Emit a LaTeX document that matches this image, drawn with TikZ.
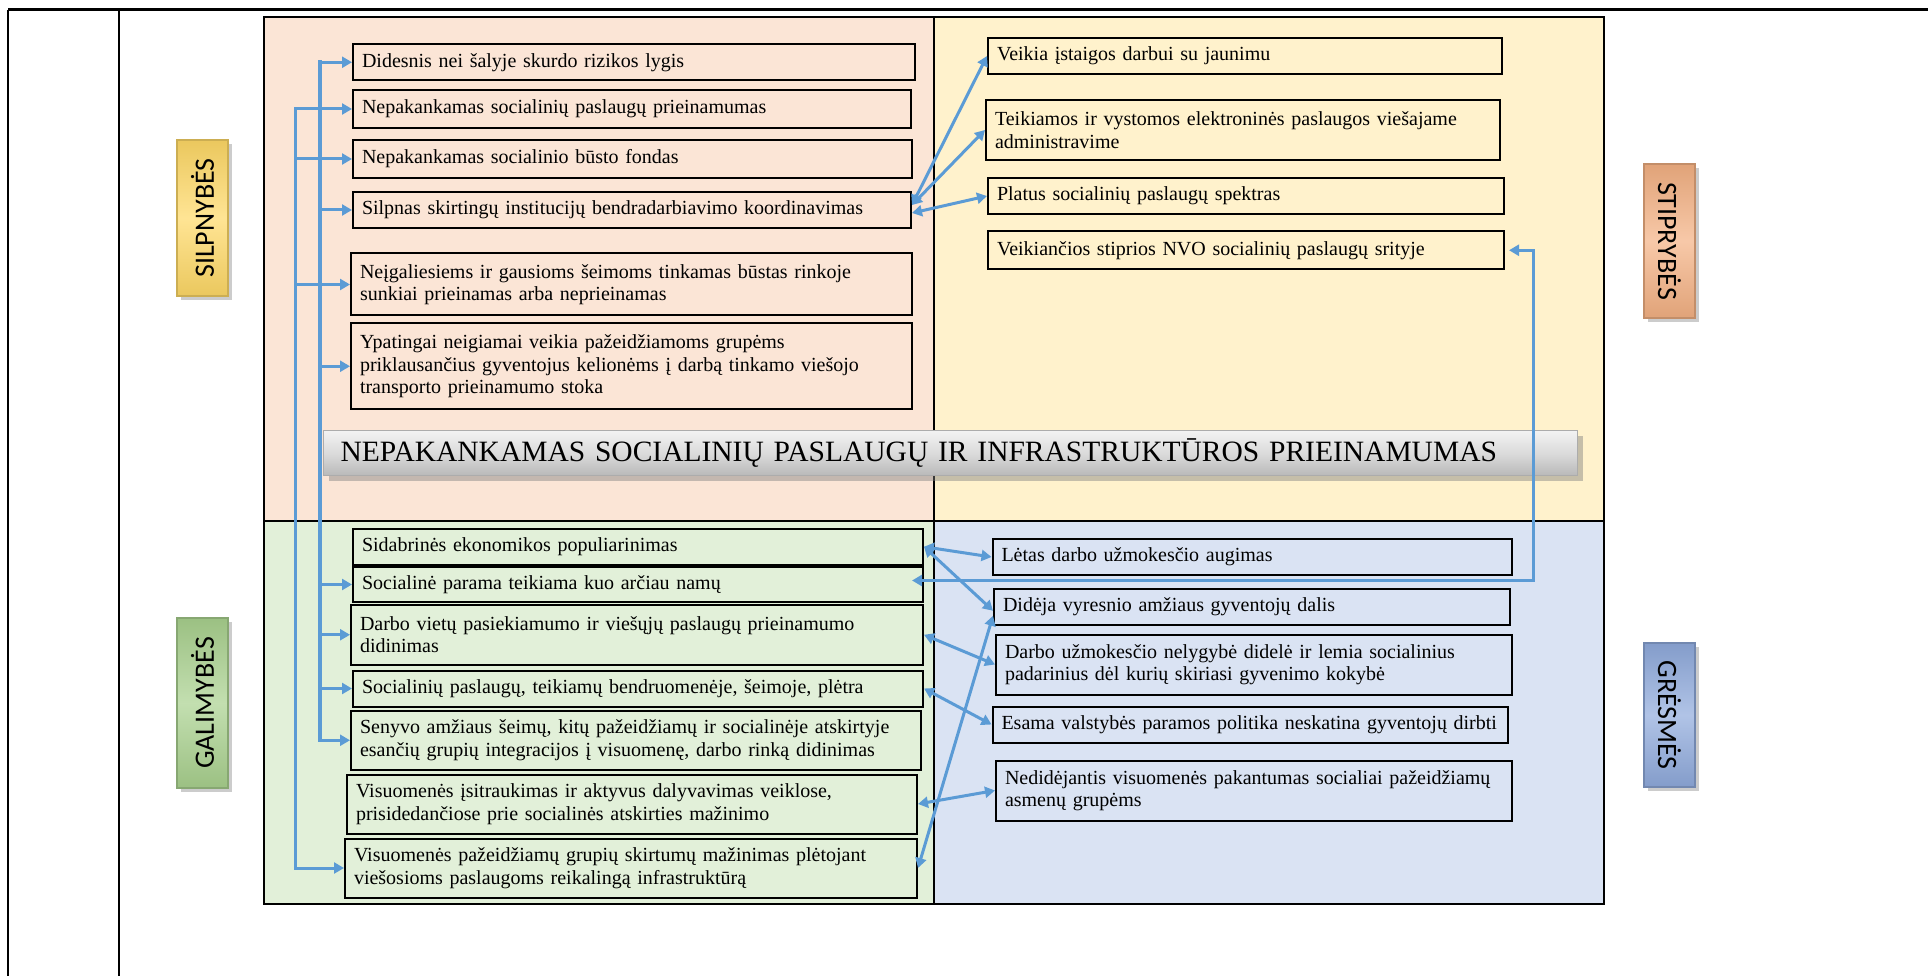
\documentclass[tikz,border=0pt]{standalone}
\usepackage{fontspec}
\setmainfont{Liberation Serif}
\newfontfamily\tagfont{Carlito}
\usepackage{tikz}
\usepackage{xcolor}
\usetikzlibrary{arrows.meta,shadows}

\definecolor{weakbg}{HTML}{FBE5D6}
\definecolor{strongbg}{HTML}{FFF2CC}
\definecolor{oppbg}{HTML}{E2F0D9}
\definecolor{threatbg}{HTML}{DAE3F3}
\definecolor{linkblue}{HTML}{5B9BD5}
\definecolor{tagyellow}{HTML}{FFD966}
\definecolor{taggreen}{HTML}{A9D18E}
\definecolor{tagorange}{HTML}{F4B183}
\definecolor{tagblue}{HTML}{8FAADC}

\begin{document}
\begin{tikzpicture}[x=1pt,y=-1pt,
  >={Triangle[length=10pt,width=11pt]},
  box/.style={draw=black,line width=2pt,anchor=north west,align=left,
    inner xsep=9pt,inner ysep=0pt,font=\fontsize{20}{22.5}\selectfont},
  link/.style={draw=linkblue,line width=3pt,->},
  both/.style={draw=linkblue,line width=3pt,<->},
  trunk/.style={draw=linkblue,line width=4pt,line cap=rect},
  tag/.style={draw=#1!80!black,line width=2pt,
    top color=#1!92!black,bottom color=#1!92!black,middle color=#1!70!white,
    drop shadow={shadow xshift=4pt,shadow yshift=-4pt,opacity=.4},
    minimum height=51pt,inner sep=0pt,font=\tagfont\fontsize{28}{28}\selectfont}]
\useasboundingbox (0,0) rectangle (1928,976);

% page table
\draw[line width=3pt] (8,10) -- (1928,10);
\draw[line width=2pt] (8,10) -- (8,976);
\draw[line width=2pt] (119,10) -- (119,976);

% quadrants
\fill[weakbg] (264,17) rectangle (934,521);
\fill[strongbg] (934,17) rectangle (1604,521);
\fill[oppbg] (264,521) rectangle (934,904);
\fill[threatbg] (934,521) rectangle (1604,904);
\draw[line width=2pt] (264,17) rectangle (1604,904);
\draw[line width=2pt] (934,17) -- (934,904);
\draw[line width=2pt] (264,521) -- (1604,521);

% side labels
\node[tag=tagyellow,rotate=90,minimum width=156pt] (weak) at (202.5,218) {SILPNYBĖS};
\node[tag=taggreen,rotate=90,minimum width=170pt] (opp) at (202.5,703) {GALIMYBĖS};
\node[tag=tagorange,rotate=-90,minimum width=154pt] (strong) at (1669.5,241) {STIPRYBĖS};
\node[tag=tagblue,rotate=-90,minimum width=144pt] (threat) at (1669.5,715) {GRĖSMĖS};

% title bar
\node[anchor=north west,draw=gray!65,line width=1pt,top color=gray!10,bottom color=gray!55,middle color=gray!28,
  drop shadow={shadow xshift=5pt,shadow yshift=-5pt,opacity=.45},
  minimum height=45pt,text width=1220pt,inner xsep=17pt,inner ysep=0pt,align=left,
  font=\fontsize{29.5}{32}\selectfont] (title) at (323,430)
  {NEPAKANKAMAS SOCIALINIŲ PASLAUGŲ IR INFRASTRUKTŪROS PRIEINAMUMAS};

\begin{scope}[every node/.style={box,fill=weakbg}]
\node[text width=543.5pt,minimum height=36.5pt] (w1) at (352,43) {Didesnis nei šalyje skurdo rizikos lygis};
\node[text width=540pt,minimum height=38pt] (w2) at (352,89) {Nepakankamas socialinių paslaugų prieinamumas};
\node[text width=541pt,minimum height=38pt] (w3) at (352,139) {Nepakankamas socialinio būsto fondas};
\node[text width=540pt,minimum height=36pt] (w4) at (352,191) {Silpnas skirtingų institucijų bendradarbiavimo koordinavimas};
\node[text width=543pt,minimum height=62pt] (w5) at (350,252.5) {Neįgaliesiems ir gausioms šeimoms tinkamas būstas rinkoje\\sunkiai prieinamas arba neprieinamas};
\node[text width=543pt,minimum height=85.5pt] (w6) at (350,322.5) {Ypatingai neigiamai veikia pažeidžiamoms grupėms\\priklausančius gyventojus kelionėms į darbą tinkamo viešojo\\transporto prieinamumo stoka};
\end{scope}

\begin{scope}[every node/.style={box,fill=strongbg}]
\node[text width=496pt,minimum height=36pt] (s1) at (987,37) {Veikia įstaigos darbui su jaunimu};
\node[text width=496pt,minimum height=60pt] (s2) at (985,99) {Teikiamos ir vystomos elektroninės paslaugos viešajame\\administravime};
\node[text width=497.5pt,minimum height=36pt] (s3) at (987,177) {Platus socialinių paslaugų spektras};
\node[text width=498pt,minimum height=38.5pt] (s4) at (987,230) {Veikiančios stiprios NVO socialinių paslaugų srityje};
\end{scope}

\begin{scope}[every node/.style={box,fill=oppbg}]
\node[text width=552pt,minimum height=35.5pt] (o1) at (352,528) {Sidabrinės ekonomikos populiarinimas};
\node[text width=552pt,minimum height=35pt] (o2) at (352,566) {Socialinė parama teikiama kuo arčiau namų};
\node[text width=554pt,minimum height=59.5pt] (o3) at (350,604) {Darbo vietų pasiekiamumo ir viešųjų paslaugų prieinamumo\\didinimas};
\node[text width=552pt,minimum height=36pt] (o4) at (352,669.5) {Socialinių paslaugų, teikiamų bendruomenėje, šeimoje, plėtra};
\node[text width=551.5pt,minimum height=59.5pt] (o5) at (350,709.5) {Senyvo amžiaus šeimų, kitų pažeidžiamų ir socialinėje atskirtyje\\esančių grupių integracijos į visuomenę, darbo rinką didinimas};
\node[text width=552pt,minimum height=59pt] (o6) at (346,773.5) {Visuomenės įsitraukimas ir aktyvus dalyvavimas veiklose,\\prisidedančiose prie socialinės atskirties mažinimo};
\node[text width=554pt,minimum height=59pt] (o7) at (344,837.5) {Visuomenės pažeidžiamų grupių skirtumų mažinimas plėtojant\\viešosioms paslaugoms reikalingą infrastruktūrą};
\end{scope}

\begin{scope}[every node/.style={box,fill=threatbg}]
\node[text width=501pt,minimum height=36pt] (t1) at (991.5,538) {Lėtas darbo užmokesčio augimas};
\node[text width=497.5pt,minimum height=36.5pt] (t2) at (993,587.5) {Didėja vyresnio amžiaus gyventojų dalis};
\node[text width=497.5pt,minimum height=60pt] (t3) at (995,633.5) {Darbo užmokesčio nelygybė didelė ir lemia socialinius\\padarinius dėl kurių skiriasi gyvenimo kokybė};
\node[text width=497.5pt,minimum height=36pt] (t4) at (991.5,705.5) {Esama valstybės paramos politika neskatina gyventojų dirbti};
\node[text width=497.5pt,minimum height=60pt] (t5) at (995,759.5) {Nedidėjantis visuomenės pakantumas socialiai pažeidžiamų\\asmenų grupėms};
\end{scope}

% left buses
\coordinate (busA) at (295,0);
\coordinate (busB) at (320,0);
\coordinate (turn) at (1533,0);

\draw[trunk] (busB |- w1.west) -- (busB |- o5.west);
\draw[trunk,line width=3pt] (busA |- w2.west) -- (busA |- o7.west);

\draw[link] (busB |- w1.west) -- (w1.west);
\draw[link] (busA |- w2.west) -- (w2.west);
\draw[link] (busA |- w3.west) -- (w3.west);
\draw[link] (busB |- w4.west) -- (w4.west);
\draw[link] (busA |- w5.west) -- (w5.west);
\draw[link] (busB |- w6.west) -- (w6.west);

\draw[link] (busB |- o2.west) -- (o2.west);
\draw[link] (busB |- o3.west) -- (o3.west);
\draw[link] (busB |- o4.west) -- (o4.west);
\draw[link] (busB |- o5.west) -- (o5.west);
\draw[link] (busA |- o7.west) -- (o7.west);

% weaknesses - strengths
\draw[both] ([yshift=5pt]w4.east) -- (s1.west);
\draw[both] ([yshift=5pt]w4.east) -- (s2.west);
\draw[both] ([yshift=-3pt]w4.east) -- (s3.west);

% opportunities - threats
\draw[both] (o1.east) -- (t1.west);
\draw[both] (o1.east) -- ([yshift=-4pt]t2.west);
\draw[both] (o7.east) -- ([yshift=-9pt]t2.west);
\draw[both] (o3.east) -- (t3.west);
\draw[both] (o4.east) -- (t4.west);
\draw[both] (o6.east) -- (t5.west);

\draw[both] ([xshift=-12pt,yshift=4pt]o2.east) -| (turn |- s4.east) -- ([xshift=4pt]s4.east);

\end{tikzpicture}
\end{document}
